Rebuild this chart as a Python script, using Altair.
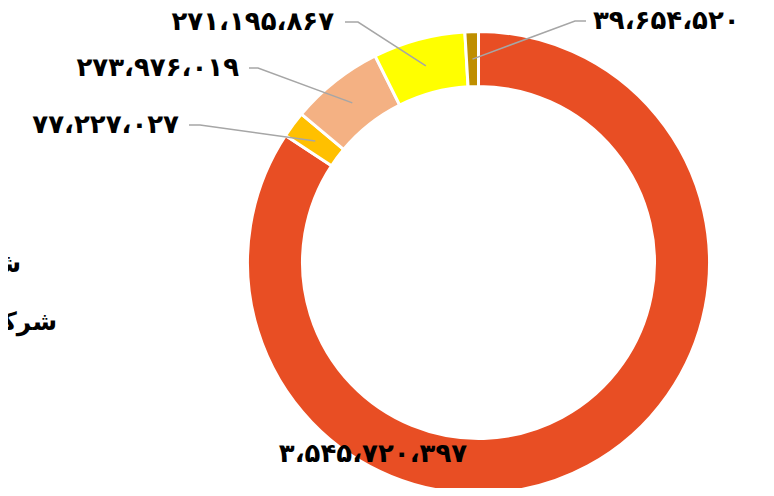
import altair as alt
import numpy as np
import pandas as pd

# ---- data ----
names = ["A", "B", "C", "D", "E"]
values = [3545720397, 77227027, 273976019, 271195867, 39654520]
colors = ["#E84E24", "#FFC000", "#F4B183", "#FFFF00", "#BF8F00"]
legend_texts = ["ش\u200d", "شرکت"]

# ---- layout ----
W, H = 758, 480
CX, CY = 470.5, 254.5
R_OUT, R_IN = 231, 176
# label anchor (chart px): text x, line start x, elbow x, y, align
label_layout = {
    "A": (365, None, None, 446, "center"),
    "B": (171, 181, 192, 117, "right"),
    "C": (231, 241, 250, 60, "right"),
    "D": (326, 337, 350, 14, "right"),
    "E": (585, 578, 567, 13, "left"),
}
FA_DIGITS = str.maketrans("0123456789", "۰۱۲۳۴۵۶۷۸۹")


def fa_num(v):
    return f"{v:,}".replace(",", "،").translate(FA_DIGITS)


total = float(sum(values))
cum = np.cumsum([0] + values[:-1])
mid_angles = [(c + v / 2) / total * 2 * np.pi for c, v in zip(cum, values)]

arc_df = pd.DataFrame({"name": names, "value": values, "order": range(len(names))})

lab_rows, line_rows = [], []
rm = (R_IN + R_OUT) / 2
for n, v, a in zip(names, values, mid_angles):
    tx, lx, ex, y, al = label_layout[n]
    lab_rows.append({"name": n, "label": fa_num(v), "x": tx, "y": y, "align": al})
    if lx is not None:
        ax = CX + rm * np.sin(a)
        ay = CY - rm * np.cos(a)
        for i, (px, py) in enumerate([(lx, y), (ex, y), (ax, ay)]):
            line_rows.append({"name": n, "i": i, "x": px, "y": py})
lab_df = pd.DataFrame(lab_rows)
line_df = pd.DataFrame(line_rows)
leg_df = pd.DataFrame({"t": legend_texts, "x": [13, 49], "y": [256, 314]})

xs = alt.Scale(domain=[0, W], nice=False, zero=False)
ys = alt.Scale(domain=[H, 0], nice=False, zero=False)

arc = alt.Chart(arc_df).mark_arc(
    innerRadius=R_IN, outerRadius=R_OUT, stroke="white", strokeWidth=3
).encode(
    theta=alt.Theta("value:Q", stack=True),
    color=alt.Color("name:N", scale=alt.Scale(domain=names, range=colors), legend=None),
    order=alt.Order("order:Q"),
    x=alt.value(CX),
    y=alt.value(CY),
)

lines = alt.Chart(line_df).mark_line(color="#A6A6A6", strokeWidth=1.5).encode(
    x=alt.X("x:Q", scale=xs, axis=None),
    y=alt.Y("y:Q", scale=ys, axis=None),
    detail="name:N",
    order="i:Q",
)

FONT = "DejaVu Sans"


def text_layer(align):
    return alt.Chart(lab_df).transform_filter(alt.datum.align == align).mark_text(
        align=align, baseline="middle", font=FONT, fontSize=26, fontWeight="bold", color="black"
    ).encode(
        x=alt.X("x:Q", scale=xs, axis=None),
        y=alt.Y("y:Q", scale=ys, axis=None),
        text="label:N",
    )


legend = alt.Chart(leg_df).mark_text(
    align="right", baseline="middle", font=FONT, fontSize=25, fontWeight="bold", color="black"
).encode(
    x=alt.X("x:Q", scale=xs, axis=None),
    y=alt.Y("y:Q", scale=ys, axis=None),
    text="t:N",
)

chart = alt.layer(
    arc, lines, text_layer("right"), text_layer("left"), text_layer("center"), legend
).properties(
    width=W, height=H, autosize=alt.AutoSizeParams(type="none"), padding=0
).configure_view(stroke=None)

chart.save("out.html", embed_options={"renderer": "svg", "actions": False})
